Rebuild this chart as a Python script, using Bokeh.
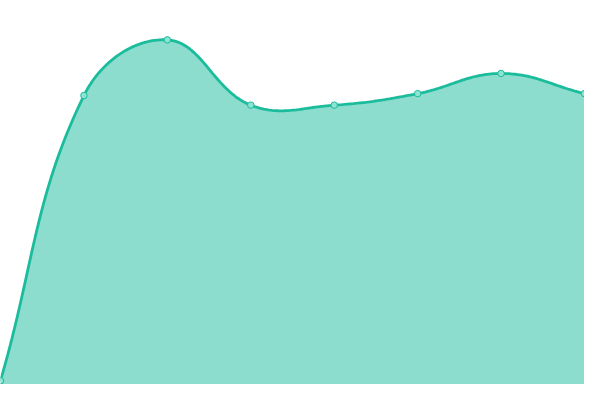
import numpy as np
from bokeh.plotting import figure
from bokeh.models import Range1d
from bokeh.embed import file_html
from bokeh.resources import INLINE

# data (index positions and values)
idx = [0, 1, 2, 3, 4, 5, 6, 7]
values = [4, 301, 359, 291, 291, 303, 324, 303]

TENSION = 0.4
W, H = 584, 384
XS = W / 7.0        # pixels per index unit
YS = H / 400.0      # pixels per value unit


def spline_path(xs, ys, t=TENSION, n=40):
    # Chart.js-like cardinal spline, computed in pixel space
    px = [x * XS for x in xs]
    py = [y * YS for y in ys]
    m = len(px)
    cp_prev, cp_next = [], []
    for i in range(m):
        a = (px[i - 1], py[i - 1]) if i > 0 else (px[i], py[i])
        b = (px[i], py[i])
        c = (px[i + 1], py[i + 1]) if i < m - 1 else (px[i], py[i])
        d01 = np.hypot(b[0] - a[0], b[1] - a[1])
        d12 = np.hypot(c[0] - b[0], c[1] - b[1])
        tot = d01 + d12
        s01 = d01 / tot if tot else 0
        s12 = d12 / tot if tot else 0
        fa, fb = t * s01, t * s12
        cp_prev.append((b[0] - fa * (c[0] - a[0]), b[1] - fa * (c[1] - a[1])))
        cp_next.append((b[0] + fb * (c[0] - a[0]), b[1] + fb * (c[1] - a[1])))
    outx, outy = [], []
    tt = np.linspace(0, 1, n)
    for i in range(m - 1):
        p0 = (px[i], py[i]); p1 = cp_next[i]; p2 = cp_prev[i + 1]; p3 = (px[i + 1], py[i + 1])
        bx = (1 - tt) ** 3 * p0[0] + 3 * (1 - tt) ** 2 * tt * p1[0] + 3 * (1 - tt) * tt ** 2 * p2[0] + tt ** 3 * p3[0]
        by = (1 - tt) ** 3 * p0[1] + 3 * (1 - tt) ** 2 * tt * p1[1] + 3 * (1 - tt) * tt ** 2 * p2[1] + tt ** 3 * p3[1]
        if i > 0:
            bx, by = bx[1:], by[1:]
        outx.extend(bx / XS); outy.extend(by / YS)
    return np.array(outx), np.array(outy)


sx, sy = spline_path(idx, values)

p = figure(width=W, height=H, output_backend="svg", toolbar_location=None,
           x_range=Range1d(0, 7), y_range=Range1d(0, 400),
           min_border=0, background_fill_color="white", border_fill_color="white")
p.axis.visible = False
p.grid.visible = False
p.outline_line_color = None

p.varea(x=sx, y1=np.zeros_like(sy), y2=sy, fill_color="#1abc9c", fill_alpha=0.5)
p.line(sx, sy, line_color="#1abc9c", line_width=2.8)
p.scatter(idx, values, size=6.5, fill_color="#8fe3d2", line_color="#1abc9c", line_width=1)

open("out.html", "w").write(file_html(p, INLINE))
